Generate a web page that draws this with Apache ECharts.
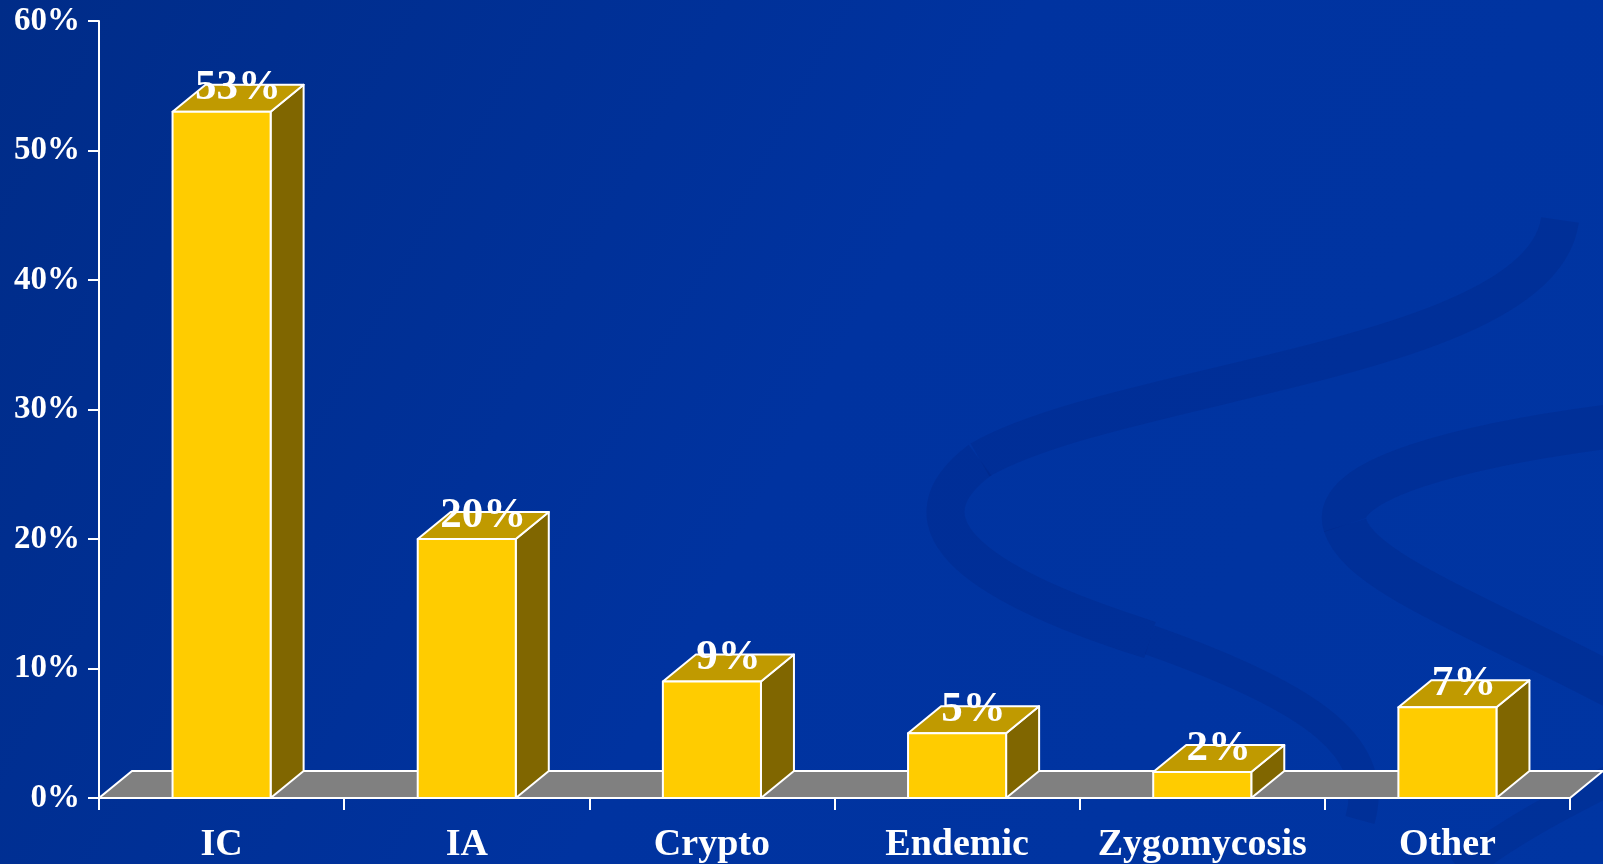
<!DOCTYPE html>
<html>
<head>
<meta charset="utf-8">
<script src="https://cdn.jsdelivr.net/npm/echarts@6/dist/echarts.min.js"></script>
<style>
html, body { margin: 0; padding: 0; }
#chart { width: 1603px; height: 864px; }
</style>
</head>
<body>
<div id="chart"></div>
<script>
const categories = ['IC', 'IA', 'Crypto', 'Endemic', 'Zygomycosis', 'Other']
const values = [53, 20, 9, 5, 2, 7]
const yTicks = { min: 0, max: 60, interval: 10 }

const FONT = "Liberation Serif"
const DX = 33
const DY = 27

let myChart = echarts.init(document.getElementById('chart'), null, {renderer: 'canvas'})

function swoosh(pts, width, alpha) {
  return {
    type: 'bezierCurve',
    silent: true,
    z: -10,
    shape: { x1: pts[0], y1: pts[1], cpx1: pts[2], cpy1: pts[3], cpx2: pts[4], cpy2: pts[5], x2: pts[6], y2: pts[7] },
    style: { fill: null, stroke: 'rgba(0,30,110,' + alpha + ')', lineWidth: width, lineCap: 'butt' }
  }
}

function renderFloor(params, api) {
  let cs = params.coordSys
  let y0 = cs.y + cs.height
  return {
    type: 'polygon',
    shape: {
      points: [[cs.x, y0], [cs.x + cs.width, y0], [cs.x + cs.width + DX, y0 - DY], [cs.x + DX, y0 - DY]]
    },
    style: { fill: '#808080', stroke: '#ffffff', lineWidth: 2 }
  }
}

function renderBar(params, api) {
  let idx = api.value(0)
  let top = api.coord([idx, api.value(1)])
  let base = api.coord([idx, 0])
  let w = api.size([1, 0])[0] * 0.4
  let x0 = top[0] - w / 2
  let x1 = top[0] + w / 2
  let yt = top[1]
  let yb = base[1]
  let line = { stroke: '#ffffff', lineWidth: 2, lineJoin: 'round' }
  return {
    type: 'group',
    children: [
      {
        type: 'polygon',
        shape: { points: [[x1, yb], [x1 + DX, yb - DY], [x1 + DX, yt - DY], [x1, yt]] },
        style: Object.assign({ fill: '#806600' }, line)
      },
      {
        type: 'polygon',
        shape: { points: [[x0, yt], [x1, yt], [x1 + DX, yt - DY], [x0 + DX, yt - DY]] },
        style: Object.assign({ fill: '#c09a00' }, line)
      },
      {
        type: 'rect',
        shape: { x: x0, y: yt, width: w, height: yb - yt },
        style: Object.assign({ fill: '#ffcc00' }, line)
      },
      {
        type: 'text',
        x: top[0] + DX / 2,
        y: yt - DY / 2 - 10,
        style: {
          text: api.value(1) + '%',
          fill: '#ffffff',
          fontFamily: FONT,
          fontSize: 43,
          fontWeight: 'bold',
          align: 'center',
          verticalAlign: 'middle'
        }
      }
    ]
  }
}

let option = {
  backgroundColor: {
    type: 'linear',
    x: 0, y: 0, x2: 1, y2: 1,
    colorStops: [
      { offset: 0, color: '#002c88' },
      { offset: 0.5, color: '#0033a0' },
      { offset: 1, color: '#0035a2' }
    ]
  },
  graphic: [
    swoosh([1560, 220, 1540, 360, 1120, 380, 980, 460], 38, 0.18),
    swoosh([980, 460, 900, 520, 960, 580, 1150, 640], 38, 0.18),
    swoosh([1150, 640, 1320, 700, 1380, 750, 1360, 820], 30, 0.18),
    swoosh([1620, 425, 1460, 445, 1330, 480, 1345, 525], 44, 0.18),
    swoosh([1345, 525, 1360, 575, 1500, 625, 1620, 690], 44, 0.18),
    swoosh([1620, 775, 1570, 800, 1510, 830, 1460, 870], 30, 0.15)
  ],
  grid: {
    left: 99,
    right: 33,
    top: 21,
    bottom: 64,
    containLabel: false
  },
  xAxis: {
    type: 'category',
    data: categories,
    z: 5,
    axisLine: { show: true, lineStyle: { color: '#ffffff', width: 2 } },
    axisTick: { show: true, length: 12, lineStyle: { color: '#ffffff', width: 2 } },
    axisLabel: {
      interval: 0,
      color: '#ffffff',
      fontFamily: FONT,
      fontWeight: 'bold',
      fontSize: 38,
      margin: 28
    }
  },
  yAxis: {
    type: 'value',
    min: yTicks.min,
    max: yTicks.max,
    interval: yTicks.interval,
    z: 5,
    axisLine: { show: true, lineStyle: { color: '#ffffff', width: 2 } },
    axisTick: { show: true, length: 11, lineStyle: { color: '#ffffff', width: 2 } },
    axisLabel: {
      color: '#ffffff',
      fontFamily: FONT,
      fontWeight: 'bold',
      fontSize: 33,
      margin: 19,
      formatter: '{value}%'
    },
    splitLine: { show: false }
  },
  series: [
    {
      type: 'custom',
      name: 'floor',
      z: 1,
      silent: true,
      renderItem: renderFloor,
      data: [[0, 0]]
    },
    {
      type: 'custom',
      name: 'share',
      z: 2,
      renderItem: renderBar,
      data: values.map((v, i) => [i, v])
    }
  ]
}

myChart.setOption(option)
</script>
</body>
</html>
